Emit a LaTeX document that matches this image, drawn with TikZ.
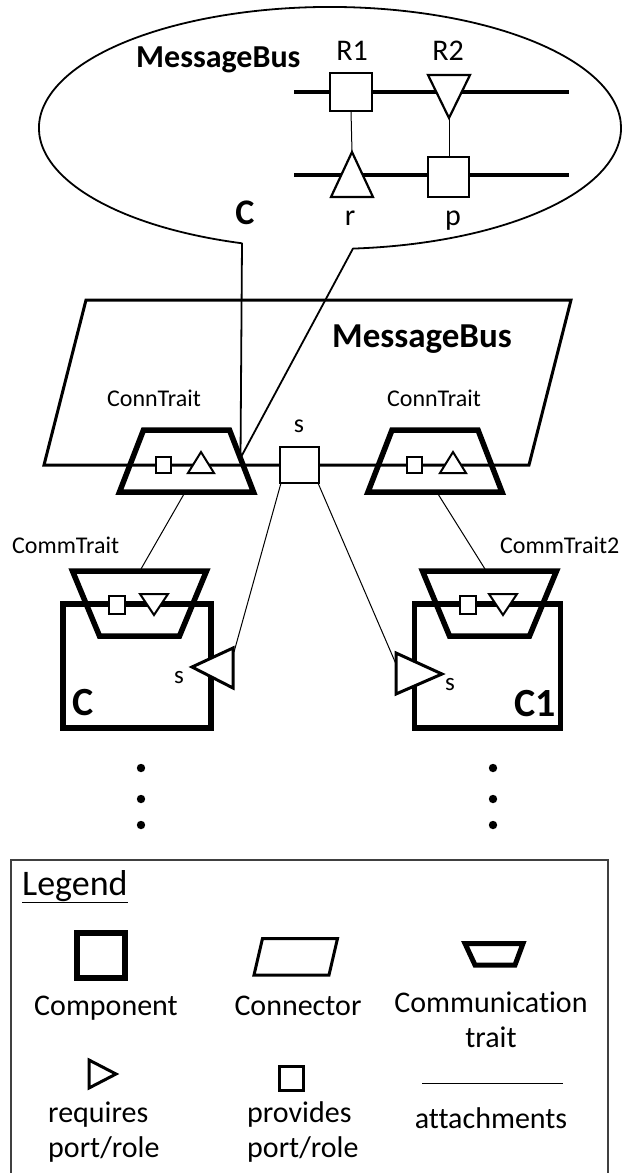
\documentclass[tikz,border=0pt]{standalone}
\usepackage{fontspec}
\setmainfont{Carlito}[Ligatures=CommonOff]
\tikzset{
  heavy/.style={draw, line width=5.5pt, line join=miter},
  busline/.style={draw, line width=3pt},
  thinbus/.style={draw, line width=4.5pt},
  attach/.style={draw, line width=1pt},
  portshape/.style={draw, fill=white, line width=2.2pt, line join=miter},
  lbl/.style={inner sep=0pt, font=\fontsize{#1}{#1}\selectfont},
  blbl/.style={inner sep=0pt, font=\fontsize{#1}{#1}\selectfont\bfseries},
  dotmark/.style={fill=black},
}
\begin{document}
\begin{tikzpicture}[x=1pt,y=-1pt]
\useasboundingbox (0,0) rectangle (624,1173);
% ---------- callout bubble ----------
\coordinate (tailtip) at (240.5,458);
\draw[line width=1.8pt, line join=round] (tailtip) -- (242,243.3)
  arc[start angle=107.6, end angle=445.47, x radius=291, y radius=121] -- (tailtip);
\node[blbl=32, anchor=base west] (bubbletitle) at (136,67) {MessageBus};
\node[blbl=36, anchor=base] (bubbleC) at (245,224) {C};
\draw[thinbus] (294,92) -- (569,92);
\draw[thinbus] (294,175) -- (569,175);
\coordinate (r1b) at (351,111);
\coordinate (ra) at (352,152);
\coordinate (r2a) at (449,118);
\coordinate (pt) at (449,157);
\draw[attach] (r1b) -- (ra);
\draw[attach] (r2a) -- (pt);
\draw[portshape] (330,73) rectangle (372,111);
\draw[portshape] (428,75) -- (470,75) -- (r2a) -- cycle;
\draw[portshape] (331,197) -- (373,197) -- (ra) -- cycle;
\draw[portshape] (428,157) rectangle (469,197);
\node[lbl=30, anchor=base] (R1) at (352,60) {R1};
\node[lbl=30, anchor=base] (R2) at (448,60) {R2};
\node[lbl=30, anchor=base] (rlab) at (350,225) {r};
\node[lbl=30, anchor=base] (plab) at (453,225) {p};
% ---------- connector MessageBus ----------
\draw[busline, line join=miter] (86,300) -- (571,300) -- (529,465) -- (44,465) -- cycle;
\node[blbl=35, anchor=base west] (bustitle) at (332,347) {MessageBus};
% left ConnTrait
\draw[heavy] (143.5,430) -- (229.5,430) -- (253.5,492) -- (119.5,492) -- cycle;
\draw[portshape, line width=2pt] (155.5,457) rectangle (170.5,473);
\draw[portshape, line width=2pt] (188,473) -- (214,473) -- (201,452) -- cycle;
\node[lbl=24, anchor=base] (ct1) at (154,406) {ConnTrait};
% right ConnTrait
\draw[heavy] (392,430) -- (478,430) -- (502,492) -- (368,492) -- cycle;
\draw[portshape, line width=2pt] (406.5,457) rectangle (421.5,473);
\draw[portshape, line width=2pt] (440,473) -- (466,473) -- (453,452) -- cycle;
\node[lbl=24, anchor=base] (ct2) at (434,406) {ConnTrait};
% s role
\draw[portshape, line width=2.5pt] (280,447) rectangle (319,483);
\node[lbl=26, anchor=base] (slab) at (299,432) {s};
\coordinate (sbl) at (281,483);
\coordinate (sbr) at (318,483);
\coordinate (ct1b) at (184,494);
\coordinate (ct2b) at (438,494);
% ---------- components ----------
\draw[heavy] (63,604) rectangle (211,728);
\draw[heavy] (414.5,604) rectangle (560.5,728);
\draw[heavy] (72.5,571) -- (206.5,571) -- (179.5,636) -- (99.5,636) -- cycle;
\draw[heavy] (422.5,571) -- (556.5,571) -- (529.5,636) -- (449.5,636) -- cycle;
\coordinate (cm1t) at (141,569);
\coordinate (cm2t) at (485,569);
\draw[portshape, line width=2pt] (109,596) rectangle (125,614);
\draw[portshape, line width=2pt] (140,594) -- (168,594) -- (154,615) -- cycle;
\draw[portshape, line width=2pt] (460,596) rectangle (476,614);
\draw[portshape, line width=2pt] (489,594) -- (517,594) -- (503,615) -- cycle;
\node[lbl=24, anchor=base west] (cm1) at (12,553) {CommTrait};
\node[lbl=24, anchor=base west] (cm2) at (500,553) {CommTrait2};
% component ports
\coordinate (lport) at (234,652);
\coordinate (rport) at (396,664);
\draw[portshape, line width=3pt] (233,648) -- (233,688) -- (192,667) -- cycle;
\draw[portshape, line width=3pt] (396,653) -- (396,694) -- (442,674) -- cycle;
\node[lbl=25, anchor=base] (ls) at (179,683) {s};
\node[lbl=25, anchor=base] (rs) at (450,690) {s};
\node[blbl=40, anchor=base west] (Cname) at (72,715) {C};
\node[blbl=40, anchor=base east] (C1name) at (556,716) {C1};
% attachments
\draw[attach] (ct1b) -- (cm1t);
\draw[attach] (ct2b) -- (cm2t);
\draw[attach] (sbl) -- (lport);
\draw[attach] (sbr) -- (rport);
% dots
\foreach \yy in {768,799,825}{
  \fill[dotmark] (141,\yy) circle (4.2);
  \fill[dotmark] (493,\yy) circle (4.2);
}
% ---------- legend ----------
\draw[line width=1.5pt, black!75] (11,1185) -- (11,860) -- (608,860) -- (608,1185);
\node[lbl=36, anchor=base west] (legtitle) at (22,895) {\underline{Legend}};
\draw[heavy] (77,933) rectangle (125,978);
\draw[busline, line join=miter] (262.5,938.5) -- (337.5,938.5) -- (329,975) -- (254,975) -- cycle;
\draw[heavy, line width=5pt] (465,943.5) -- (523,943.5) -- (515,965) -- (475,965) -- cycle;
\node[lbl=30, anchor=base] (lcomp) at (106,1015) {Component};
\node[lbl=30, anchor=base] (lconn) at (298,1015) {Connector};
\node[lbl=30, anchor=base] (lcomm) at (491,1012) {Communication};
\node[lbl=30, anchor=base] (ltrait) at (491,1047) {trait};
\draw[line width=3pt, line join=miter] (89,1060) -- (89,1088) -- (116,1074) -- cycle;
\draw[line width=3pt] (279,1066) rectangle (303,1090);
\coordinate (la) at (422,1083);
\coordinate (lb) at (563,1083);
\draw[attach] (la) -- (lb);
\node[lbl=30, anchor=base west] (lreq) at (48,1122) {requires};
\node[lbl=30, anchor=base west] (lreq2) at (48,1157) {port/role};
\node[lbl=30, anchor=base west] (lprov) at (247,1122) {provides};
\node[lbl=30, anchor=base west] (lprov2) at (247,1157) {port/role};
\node[lbl=30, anchor=base] (latt) at (491,1128) {attachments};
\end{tikzpicture}
\end{document}
